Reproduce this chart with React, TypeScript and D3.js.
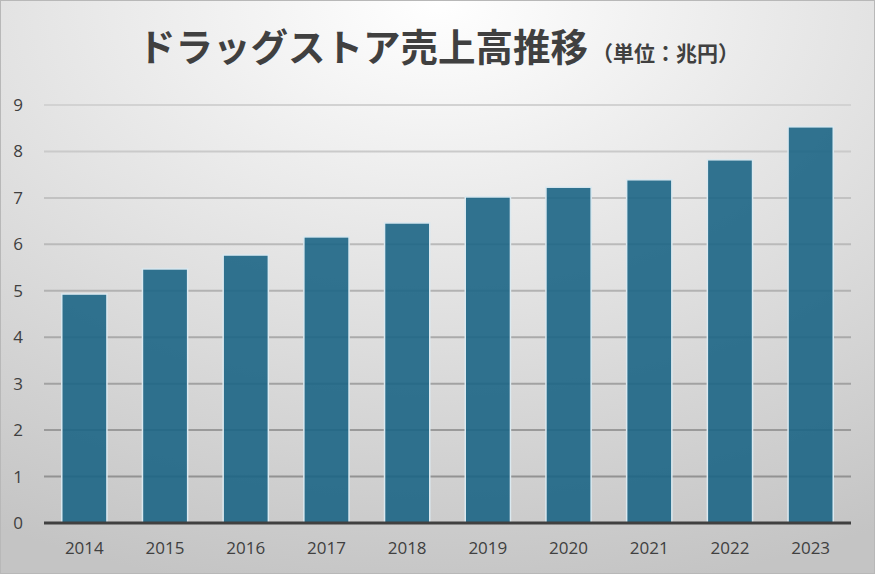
import React, { useEffect, useRef } from 'react';
import * as d3 from 'd3';

const years = ['2014', '2015', '2016', '2017', '2018', '2019', '2020', '2021', '2022', '2023'];
const sales = [4.93, 5.47, 5.77, 6.16, 6.46, 7.02, 7.23, 7.39, 7.82, 8.53];
const yTicks = [0, 1, 2, 3, 4, 5, 6, 7, 8, 9];
const titleMain = 'ドラッグストア売上高推移';
const titleUnit = '（単位：兆円）';

const W = 875, H = 574;

export default function App() {
  const ref = useRef<SVGSVGElement>(null);

  useEffect(() => {
    document.body.style.margin = '0';
    const svg = d3.select(ref.current);
    svg.selectAll('*').remove();

    const margin = { top: 105, right: 24, bottom: 51, left: 44 };
    const width = W - margin.left - margin.right;
    const height = H - margin.top - margin.bottom;

    const defs = svg.append('defs');
    const grad = defs.append('radialGradient')
      .attr('id', 'bg').attr('cx', '50%').attr('cy', '0%').attr('r', '105%')
      .attr('gradientUnits', 'objectBoundingBox');
    grad.append('stop').attr('offset', '0%').attr('stop-color', '#ffffff');
    grad.append('stop').attr('offset', '100%').attr('stop-color', '#c4c4c4');

    svg.append('rect')
      .attr('x', 0.5).attr('y', 0.5).attr('width', W - 1).attr('height', H - 1)
      .attr('fill', 'url(#bg)').attr('stroke', '#b8b8b8');

    const title = svg.append('text')
      .attr('x', 138).attr('y', 61)
      .attr('font-family', '"Noto Sans CJK JP", sans-serif')
      .attr('font-weight', 'bold')
      .attr('fill', '#404040');
    title.append('tspan').attr('font-size', 37.5).text(titleMain);
    title.append('tspan').attr('font-size', 21).attr('dx', 4).text(titleUnit);

    const chart = svg.append('g')
      .attr('transform', 'translate(' + margin.left + ',' + margin.top + ')');

    const x = d3.scaleBand().domain(years).range([0, width]).paddingInner(0.44).paddingOuter(0.22);
    const y = d3.scaleLinear().domain([0, 9]).range([height, 0]);

    const gridColor = d3.interpolateRgb('#8a8a8a', '#d2d2d2');
    chart.append('g').selectAll('line')
      .data(yTicks.filter(d => d > 0))
      .enter().append('line')
      .attr('x1', 0).attr('x2', width)
      .attr('y1', d => y(d)).attr('y2', d => y(d))
      .attr('stroke', d => gridColor(d / 9))
      .attr('stroke-width', 2);

    chart.append('g').selectAll('rect')
      .data(sales)
      .enter().append('rect')
      .attr('x', (d, i) => x(years[i]) as number)
      .attr('width', x.bandwidth())
      .attr('y', d => y(d))
      .attr('height', d => height - y(d))
      .attr('fill', '#1c6585')
      .attr('fill-opacity', 0.9)
      .attr('stroke', '#dbe9f0')
      .attr('stroke-width', 1.5);

    chart.append('line')
      .attr('x1', 0).attr('x2', width)
      .attr('y1', height).attr('y2', height)
      .attr('stroke', '#404040').attr('stroke-width', 3);

    chart.append('g').selectAll('text')
      .data(yTicks)
      .enter().append('text')
      .attr('x', -26).attr('y', d => y(d)).attr('dy', '0.35em')
      .attr('text-anchor', 'middle')
      .attr('font-family', '"Open Sans", "Noto Sans", sans-serif')
      .attr('font-size', 17).attr('fill', '#404040')
      .text(d => d);

    chart.append('g').selectAll('text')
      .data(years)
      .enter().append('text')
      .attr('x', d => (x(d) as number) + x.bandwidth() / 2)
      .attr('y', height + 31)
      .attr('text-anchor', 'middle')
      .attr('font-family', '"Open Sans", "Noto Sans", sans-serif')
      .attr('font-size', 17).attr('fill', '#404040')
      .text(d => d);
  }, []);

  return <svg ref={ref} width={W} height={H} style={{ display: 'block' }}></svg>;
}
